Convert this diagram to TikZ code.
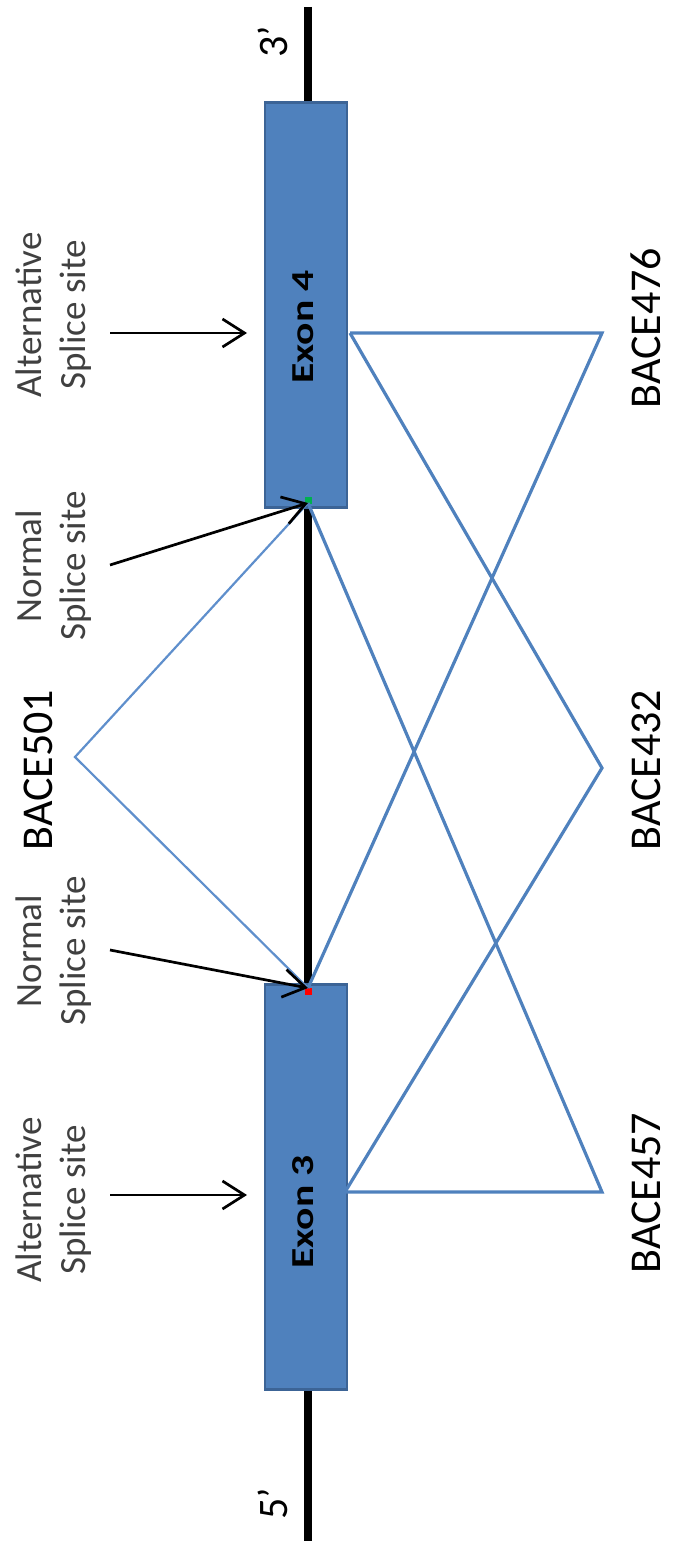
\documentclass[tikz,border=0pt]{standalone}
\usepackage{fontspec}
\usepackage{graphicx}
\setmainfont{Carlito}
\usetikzlibrary{arrows.meta}
\definecolor{exonfill}{HTML}{4F81BD}
\definecolor{exonedge}{HTML}{3C6496}
\definecolor{isoline}{HTML}{4F81BD}
\definecolor{isolight}{HTML}{5F8FCC}
\definecolor{graytext}{HTML}{404040}
\definecolor{sitegreen}{HTML}{00B050}
\definecolor{sitered}{HTML}{FF0000}
\tikzset{
  exonbox/.style={draw=exonedge, line width=2.5pt, fill=exonfill},
  exonlabel/.style={rotate=90, font=\fontsize{32}{36}\selectfont\bfseries, text=black, inner sep=0pt},
  backbone/.style={line width=8pt, black},
  sitelabel/.style={rotate=90, align=center, text=graytext, font=\fontsize{37}{44}\selectfont, inner sep=0pt},
  isolabel/.style={rotate=90, text=black, font=\fontsize{44}{50}\selectfont, inner sep=0pt},
  endlabel/.style={rotate=90, text=black, font=\fontsize{42}{48}\selectfont, inner sep=0pt},
  sitearrow/.style={black, line width=2.7pt, -{Straight Barb[length=22pt,width=28pt,line width=2.7pt]}},
  isoform/.style={isoline, line width=3.2pt, line join=miter},
  isoformlight/.style={isolight, line width=2.2pt, line join=miter},
}
\begin{document}
\begin{tikzpicture}[x=1pt,y=-1pt]
\useasboundingbox (0,0) rectangle (675,1546);
% backbone
\coordinate (top) at (308,7);
\coordinate (bot) at (308,1541);
\draw[backbone] (top) -- (bot);
% exons
\node[exonbox, minimum width=82pt, minimum height=405pt, inner sep=0pt] (ex4) at (306,305) {};
\node[exonbox, minimum width=82pt, minimum height=405pt, inner sep=0pt] (ex3) at (306,1187) {};
\node[exonlabel] (ex4t) at (303,327) {\scalebox{1.3}[1]{Exon 4}};
\node[exonlabel] (ex3t) at (303,1212) {\scalebox{1.3}[1]{Exon 3}};
% splice coordinates
\coordinate (n4) at (308,503);
\coordinate (n3) at (308,988);
\coordinate (a4) at (350,333);
\coordinate (a3) at (345,1192);
\coordinate (p476) at (602,333);
\coordinate (p432) at (602,768);
\coordinate (p457) at (602,1192);
\coordinate (p501) at (75,757);
% site markers
\node[fill=sitegreen, minimum size=7pt, inner sep=0pt] (gsq) at (308,500) {};
\node[fill=sitered, minimum size=7pt, inner sep=0pt] (rsq) at (308,991) {};
% isoform connectors
\draw[isoformlight] (n4) -- (p501) -- (n3);
\draw[isoform] (n3) -- (p476) -- (a4);
\draw[isoform] (a4) -- (p432) -- (a3);
\draw[isoform] (n4) -- (p457) -- (a3);
% labels
\node[endlabel] (l3) at (273,42) {3’};
\node[endlabel] (l5) at (273,1504) {5’};
\node[isolabel] (b476) at (646,328) {BACE476};
\node[isolabel] (b432) at (646,770) {BACE432};
\node[isolabel] (b457) at (646,1193) {BACE457};
\node[isolabel] (b501) at (38,770) {BACE501};
\node[sitelabel] (s4alt) at (54,315) {Alternative\\Splice site};
\node[sitelabel] (s3alt) at (54,1200) {Alternative\\Splice site};
\node[sitelabel] (s4norm) at (54,566) {Normal\\Splice site};
\node[sitelabel] (s3norm) at (54,951) {Normal\\Splice site};
% arrows
\coordinate (q4alt) at (110,333);
\coordinate (q3alt) at (110,1195);
\coordinate (q4norm) at (110,565);
\coordinate (q3norm) at (110,950);
\coordinate (t4alt) at (247,333);
\coordinate (t3alt) at (247,1195);
\draw[sitearrow] (q4alt) -- (t4alt);
\draw[sitearrow] (q3alt) -- (t3alt);
\draw[sitearrow] (q4norm) -- (n4);
\draw[sitearrow] (q3norm) -- (n3);
\end{tikzpicture}
\end{document}
